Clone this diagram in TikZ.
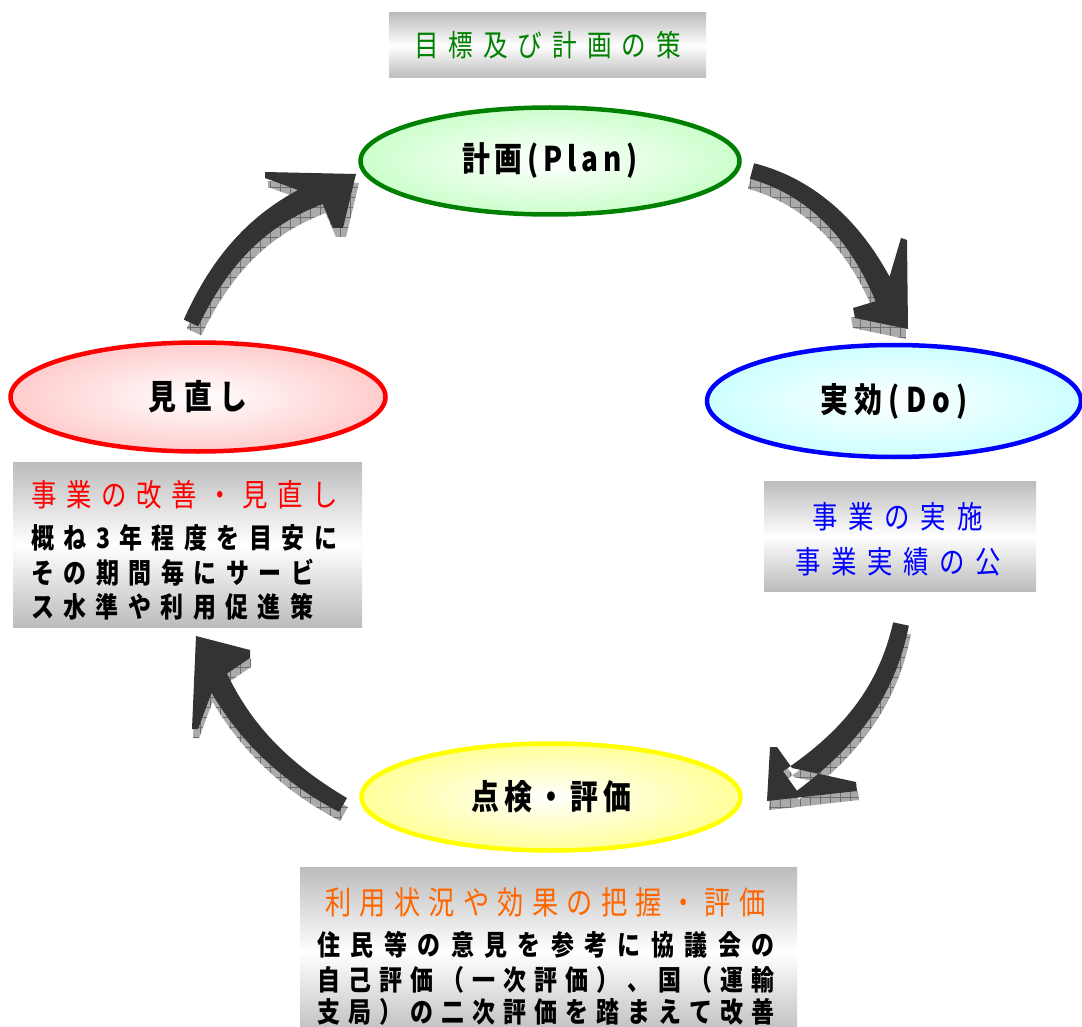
\documentclass[tikz,border=0pt]{standalone}
\usepackage{fontspec}
\setmainfont{Noto Sans CJK JP}[FakeStretch=0.82]
\usetikzlibrary{shapes.geometric,calc,patterns.meta}
\definecolor{plang}{RGB}{0,128,0}
\definecolor{planfill}{RGB}{204,255,204}
\definecolor{dofill}{RGB}{204,255,255}
\definecolor{chkfill}{RGB}{255,255,153}
\definecolor{chkline}{RGB}{255,255,0}
\definecolor{actfill}{RGB}{255,204,204}
\definecolor{orng}{RGB}{255,102,0}
\definecolor{arrowdark}{RGB}{51,51,51}
\definecolor{boxgray}{RGB}{188,188,188}
\definecolor{shadowgray}{RGB}{170,170,170}
\definecolor{hatchgray}{RGB}{110,110,110}
\def\spreadrest#1{\ifx\relax#1\else\hfill#1\expandafter\spreadrest\fi}
\def\spreadfirst#1{#1\spreadrest}
\newcommand\spreadline[2]{\makebox[#1][s]{\spreadfirst#2\relax}}
\newcommand\jfs[1]{\fontsize{#1}{#1}\selectfont}
\newcommand\arrowpath[4]{%
 ($(#1t)!#2!90:(#1a)$) .. controls ($(#1a)!#3!90:(#1b)$) and ($(#1b)!#3!90:(#1e)$) .. ($(#1e)!#4!-90:(#1b)$)
 -- ($(#1e)!#4!90:(#1b)$) .. controls ($(#1b)!#3!-90:(#1e)$) and ($(#1a)!#3!-90:(#1b)$) .. ($(#1t)!#2!-90:(#1a)$) -- cycle
 (#1h1) -- (#1h2) -- (#1h3) -- (#1h4) -- (#1h5) -- (#1h6) -- cycle}
\begin{document}
\begin{tikzpicture}[x=1pt,y=-1pt,
  ell/.style={ellipse, line width=4.5pt, inner sep=0pt},
  graybox/.style={rectangle, inner sep=0pt, top color=boxgray, bottom color=boxgray, middle color=white},
  lbl/.style={inner sep=0pt},
  arrowbody/.style={fill=arrowdark},
  arrowshadow/.style={preaction={fill=shadowgray}, pattern={Hatch[distance=10pt,angle=0,line width=0.5pt]}, pattern color=hatchgray}]
\fill[white] (0,0) rectangle (1082,1027);
\useasboundingbox (0,0) rectangle (1082,1027);

% ---------- arrow geometry ----------
% A1: Act -> Plan
\coordinate (A1t) at (191,323); \coordinate (A1a) at (224,252);
\coordinate (A1b) at (266,213); \coordinate (A1e) at (326,190);
\coordinate (A1h1) at (356,174); \coordinate (A1h2) at (343,228);
\coordinate (A1h3) at (333,228); \coordinate (A1h4) at (320,198);
\coordinate (A1h5) at (265,178); \coordinate (A1h6) at (265,172);
% A2: Plan -> Do
\coordinate (A2t) at (752,171); \coordinate (A2a) at (812,187);
\coordinate (A2b) at (860,232); \coordinate (A2e) at (890,305);
\coordinate (A2h1) at (901,238); \coordinate (A2h2) at (907,240);
\coordinate (A2h3) at (908,329); \coordinate (A2h4) at (855,318);
\coordinate (A2h5) at (853,308); \coordinate (A2h6) at (883,299);
% A3: Do -> Check
\coordinate (A3t) at (901,624); \coordinate (A3a) at (887,690);
\coordinate (A3b) at (852,737); \coordinate (A3e) at (790,781);
\coordinate (A3h1) at (792,768); \coordinate (A3h2) at (777,747);
\coordinate (A3h3) at (770,747); \coordinate (A3h4) at (767,801);
\coordinate (A3h5) at (857,791); \coordinate (A3h6) at (856,782);
% A4: Check -> Act
\coordinate (A4t) at (343,805); \coordinate (A4a) at (286,773);
\coordinate (A4b) at (238,730); \coordinate (A4e) at (208,660);
\coordinate (A4h1) at (196,636); \coordinate (A4h2) at (250,650);
\coordinate (A4h3) at (250,658); \coordinate (A4h4) at (216,681);
\coordinate (A4h5) at (198,729); \coordinate (A4h6) at (192,729);

% ---------- shadows ----------
\begin{scope}[transform canvas={shift={(3,9)}}]
  \path[arrowshadow] \arrowpath{A1}{8pt}{10pt}{12pt};
\end{scope}
\begin{scope}[transform canvas={shift={(-2,10)}}]
  \path[arrowshadow] \arrowpath{A2}{8pt}{10pt}{12pt};
\end{scope}
\begin{scope}[transform canvas={shift={(2,9)}}]
  \path[arrowshadow] \arrowpath{A3}{8pt}{10pt}{12pt};
\end{scope}
\begin{scope}[transform canvas={shift={(1,9)}}]
  \path[arrowshadow] \arrowpath{A4}{8pt}{10pt}{12pt};
\end{scope}

% ---------- arrows ----------
\path[arrowbody] \arrowpath{A1}{8pt}{10pt}{12pt};
\path[arrowbody] \arrowpath{A2}{8pt}{10pt}{12pt};
\path[arrowbody] \arrowpath{A3}{8pt}{10pt}{12pt};
\path[arrowbody] \arrowpath{A4}{8pt}{10pt}{12pt};

% ---------- title ----------
\node[graybox, minimum width=317pt, minimum height=65pt] (title) at (547.5,45.5)
  {\jfs{30}\color{plang}\spreadline{267pt}{目標及び計画の策}};

% ---------- ellipses ----------
\node[ell, draw=plang, inner color=white, outer color=planfill, minimum width=379pt, minimum height=107pt] (plan) at (550,161)
  {\jfs{34}\bfseries\spreadline{176pt}{計画(Plan)}};
\node[ell, draw=blue, inner color=white, outer color=dofill, minimum width=374pt, minimum height=112pt] (do) at (894,401)
  {\jfs{34}\bfseries\spreadline{148pt}{実効(Do)}};
\node[ell, draw=chkline, inner color=white, outer color=chkfill, minimum width=379pt, minimum height=107pt] (check) at (551,797)
  {\jfs{34}\bfseries\spreadline{160pt}{点検・評価}};
\node[ell, draw=red, inner color=white, outer color=actfill, minimum width=375pt, minimum height=109pt] (act) at (198,397)
  {\jfs{34}\bfseries\spreadline{99pt}{見直し}};

% ---------- Act box ----------
\node[graybox, minimum width=349pt, minimum height=165pt] (actbox) at (187.5,544.5) {};
\node[lbl, anchor=west] (act1) at (31,495) {\jfs{31}\color{red}\spreadline{307pt}{事業の改善・見直し}};
\node[lbl, anchor=west] (act2) at (31,538) {\jfs{28}\bfseries\spreadline{306pt}{概ね3年程度を目安に}};
\node[lbl, anchor=west] (act3) at (31,573) {\jfs{28}\bfseries\spreadline{283pt}{その期間毎にサービ}};
\node[lbl, anchor=west] (act4) at (31,607) {\jfs{28}\bfseries\spreadline{282pt}{ス水準や利用促進策}};

% ---------- Do box ----------
\node[graybox, minimum width=272pt, minimum height=110pt] (dobox) at (900,536) {};
\node[lbl] (do1) at (897.5,517) {\jfs{31}\color{blue}\spreadline{170pt}{事業の実施}};
\node[lbl] (do2) at (898,562) {\jfs{31}\color{blue}\spreadline{205pt}{事業実績の公}};

% ---------- Check box ----------
\node[graybox, minimum width=497pt, minimum height=170pt] (chkbox) at (548.5,952) {};
\node[lbl] (chk1) at (545.5,902) {\jfs{32}\color{orng}\spreadline{440pt}{利用状況や効果の把握・評価}};
\node[lbl] (chk2) at (546,945) {\jfs{28}\bfseries\spreadline{457pt}{住民等の意見を参考に協議会の}};
\node[lbl] (chk3) at (546,980) {\jfs{28}\bfseries\spreadline{457pt}{自己評価（一次評価）、国（運輸}};
\node[lbl] (chk4) at (546,1012) {\jfs{28}\bfseries\spreadline{457pt}{支局）の二次評価を踏まえて改善}};
\end{tikzpicture}
\end{document}
